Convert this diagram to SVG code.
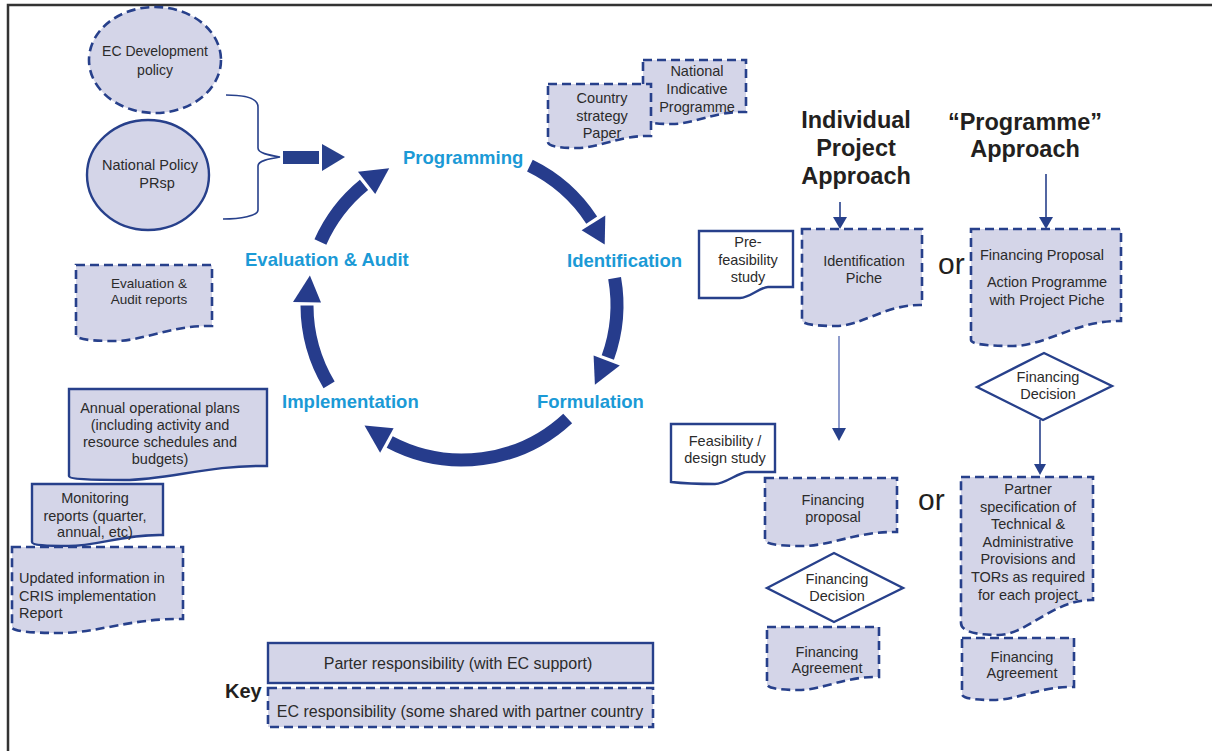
<svg xmlns="http://www.w3.org/2000/svg" width="1212" height="751" viewBox="0 0 1212 751">
<defs>
<style>
text{font-family:"Liberation Sans",Arial,sans-serif;fill:#2b2b2b;font-size:14.5px}
.c{text-anchor:middle}
.fill{fill:#d4d5e8}
.dash{fill:#d4d5e8;stroke:#27408b;stroke-width:2.6;stroke-dasharray:9 5}
.solid{fill:#d4d5e8;stroke:#27408b;stroke-width:2.4}
.white{fill:#fff;stroke:#27408b;stroke-width:2.4}
.cyc{fill:none;stroke:#263c8c;stroke-width:13}
.head{fill:#263c8c}
.lbl{font-weight:bold;font-size:18.5px;fill:#1b9ad6}
.hdr{font-weight:bold;font-size:23.5px;fill:#231f20}
.or{font-size:30px;fill:#231f20}
.ln{stroke:#27408b;stroke-width:1.6;fill:none}
.lnl{stroke:#7384c0;stroke-width:1.6;fill:none}
.ah{fill:#27408b}
</style>
</defs>
<rect width="1212" height="751" fill="#fff"/>
<path d="M8,751 V5 H1212" fill="none" stroke="#333" stroke-width="2.5"/>

<g id="ec-policy">
<ellipse cx="155" cy="60" rx="66" ry="53" class="dash"/>
<text x="155" y="56" class="c" style="font-size:14px">EC Development</text>
<text x="155" y="75" class="c" style="font-size:14px">policy</text>
</g>
<g id="national-policy">
<ellipse cx="148" cy="175" rx="61" ry="55" class="solid"/>
<text x="150" y="170" class="c">National Policy</text>
<text x="157" y="188" class="c">PRsp</text>
</g>

<g id="national-indicative">
<path d="M643,60 H746 V112 C715,111 694.5,124 671.8,124 C653.3,124 643,122 643,118 Z" class="dash"/>
<text x="697" y="76" class="c">National</text>
<text x="697" y="94" class="c">Indicative</text>
<text x="697" y="112" class="c">Programme</text>
</g>
<g id="country-strategy">
<path d="M548,84 H651 V136 C620,135 599.5,148 576.8,148 C558.3,148 548,146 548,142 Z" class="dash"/>
<text x="602" y="103" class="c">Country</text>
<text x="602" y="121" class="c">strategy</text>
<text x="602" y="138" class="c">Paper</text>
</g>

<g id="eval-reports">
<path d="M76,265 H212 V326 C171.2,325 144,341 114.1,341 C89.6,341 76,339 76,335 Z" class="dash"/>
<text x="149" y="288" class="c" style="font-size:13.5px">Evaluation &amp;</text>
<text x="149" y="304" class="c" style="font-size:13.5px">Audit reports</text>
</g>

<g id="cycle-labels">
<text x="403" y="164" class="lbl">Programming</text>
<text x="567" y="267" class="lbl">Identification</text>
<text x="537" y="408" class="lbl">Formulation</text>
<text x="282" y="408" class="lbl">Implementation</text>
<text x="245" y="266" class="lbl">Evaluation &amp; Audit</text>
</g>

<g id="connectors">
<path d="M226,95 C245,95 258,98 258,107 V148 C258,153 268,155 280,157 C268,159 258,161 258,166 V210 C258,216 240,219 223,219" class="ln" stroke-width="2.2"/>
<rect x="283" y="151" width="36" height="13" class="ah"/>
<polygon points="322,144 345,157 322,171" class="ah"/>

<path d="M529.9,165.7 A155,155 0 0 1 591.7,220.1" class="cyc"/>
<polygon points="581.6,230.3 605.3,215.4 604.7,244.4" class="head"/>
<path d="M614.6,278.1 A155,155 0 0 1 607.8,357.5" class="cyc"/>
<polygon points="593.6,355.5 619.8,365.6 594.9,384.8" class="head"/>
<path d="M567.7,418.4 A155,155 0 0 1 389.7,442.1" class="cyc"/>
<polygon points="393.6,428.3 380.1,452.8 364.5,425.5" class="head"/>
<path d="M329.1,384.8 A155,155 0 0 1 307.0,305.5" class="cyc"/>
<polygon points="321.0,302.5 293.0,302.1 309.9,275.4" class="head"/>
<path d="M320.4,242.0 A155,155 0 0 1 364.0,184.9" class="cyc"/>
<polygon points="375.2,193.9 357.95,171.8 389.2,168.15" class="head"/>

<line x1="840" y1="202" x2="840" y2="218" class="ln"/>
<polygon points="833,217 847,217 840,229" class="ah"/>
<line x1="1046" y1="174" x2="1046" y2="218" class="ln"/>
<polygon points="1039,217 1053,217 1046,229" class="ah"/>
<line x1="839" y1="336" x2="839" y2="429" class="lnl"/>
<polygon points="832,428 846,428 839,441" class="ah"/>
<line x1="1040" y1="420" x2="1040" y2="465" class="ln"/>
<polygon points="1034,464 1046,464 1040,475" class="ah"/>
</g>

<g id="headers">
<text x="856" y="128" class="hdr c">Individual</text>
<text x="856" y="156" class="hdr c">Project</text>
<text x="856" y="184" class="hdr c">Approach</text>
<text x="1025" y="130" class="hdr c">“Programme”</text>
<text x="1025" y="157" class="hdr c">Approach</text>
<text x="938" y="274" class="or">or</text>
<text x="918" y="510" class="or">or</text>
</g>

<g id="pre-feasibility">
<path d="M699,231 H793 V287 H768 C760,287 750,298 740,298 H699 Z" class="white"/>
<text x="748" y="247" class="c">Pre-</text>
<text x="748" y="265" class="c">feasibility</text>
<text x="748" y="282" class="c">study</text>
</g>
<g id="identification-piche">
<path d="M802,229 H922 V305 C886,304 862,326 835.6,326 C814,326 802,324 802,320 Z" class="dash"/>
<text x="864" y="266" class="c">Identification</text>
<text x="864" y="283" class="c">Piche</text>
</g>
<g id="financing-proposal-prog">
<path d="M971,229 H1121 V321 C1076,320 1046,346 1013,346 C986,346 971,344 971,340 Z" class="dash"/>
<text x="1042" y="260" class="c">Financing Proposal</text>
<text x="1047" y="287" class="c">Action Programme</text>
<text x="1047" y="305" class="c">with Project Piche</text>
</g>
<g id="decision-prog">
<polygon points="977,387 1044,353 1112,386 1043,420" class="white"/>
<text x="1048" y="382" class="c">Financing</text>
<text x="1048" y="399" class="c">Decision</text>
</g>
<g id="partner-spec">
<path d="M961,477 H1093 V600 C1053.4,599 1027,635 998,635 C974.2,635 961,631 961,623 Z" class="dash"/>
<text x="1028" y="494" class="c">Partner</text>
<text x="1028" y="512" class="c">specification of</text>
<text x="1028" y="529" class="c">Technical &amp;</text>
<text x="1028" y="547" class="c">Administrative</text>
<text x="1028" y="564" class="c">Provisions and</text>
<text x="1028" y="582" class="c">TORs as required</text>
<text x="1028" y="600" class="c">for each project</text>
</g>
<g id="agreement-prog">
<path d="M962,638 H1074 V687 C1040.4,686 1018,700 993.4,700 C973.2,700 962,698 962,694 Z" class="dash"/>
<text x="1022" y="662" class="c">Financing</text>
<text x="1022" y="678" class="c">Agreement</text>
</g>

<g id="feasibility-design">
<path d="M671,424 H775 V472 H748 C738,472 726,484 715,484 C700,484 680,483 671,482 Z" class="white"/>
<text x="725" y="446" class="c">Feasibility /</text>
<text x="725" y="463" class="c">design study</text>
</g>
<g id="financing-proposal-proj">
<path d="M765,478 H897 V532 C857.4,531 831,546 802,546 C778.2,546 765,544 765,540 Z" class="dash"/>
<text x="833" y="505" class="c">Financing</text>
<text x="833" y="522" class="c">proposal</text>
</g>
<g id="decision-proj">
<polygon points="767,588 834,553 903,588 834,622" class="white"/>
<text x="837" y="584" class="c">Financing</text>
<text x="837" y="601" class="c">Decision</text>
</g>
<g id="agreement-proj">
<path d="M767,627 H879 V677 C845.4,676 823,690 798.4,690 C778.2,690 767,688 767,684 Z" class="dash"/>
<text x="827" y="657" class="c">Financing</text>
<text x="827" y="673" class="c">Agreement</text>
</g>

<g id="annual-plans">
<path d="M69,389 H267 V466 C207.6,465 168,480 124.4,480 C88.8,480 69,479 69,476 Z" class="solid"/>
<text x="160" y="413" class="c">Annual operational plans</text>
<text x="160" y="430" class="c">(including activity and</text>
<text x="160" y="447" class="c">resource schedules and</text>
<text x="160" y="464" class="c">budgets)</text>
</g>
<g id="monitoring">
<path d="M32,484 H163 V535 C123.7,534 97.5,546 68.7,546 C45.1,546 32,545 32,542 Z" class="solid"/>
<text x="95" y="503" class="c">Monitoring</text>
<text x="95" y="521" class="c">reports (quarter,</text>
<text x="95" y="537" class="c">annual, etc)</text>
</g>
<g id="updated-info">
<path d="M12,547 H183 V619 C131.7,618 97.5,633 59.9,633 C29.1,633 12,631 12,627 Z" class="dash"/>
<text x="19" y="583">Updated information in</text>
<text x="19" y="601">CRIS implementation</text>
<text x="19" y="618">Report</text>
</g>

<g id="key">
<rect x="268" y="643" width="385" height="40" class="solid"/>
<text x="458" y="669" class="c" style="font-size:16px">Parter responsibility (with EC support)</text>
<rect x="268" y="688" width="385" height="39" class="dash"/>
<text x="460" y="717" class="c" style="font-size:16px">EC responsibility (some shared with partner country</text>
<text x="225" y="698" style="font-size:20px;font-weight:bold;fill:#231f20">Key</text>
</g>
</svg>
